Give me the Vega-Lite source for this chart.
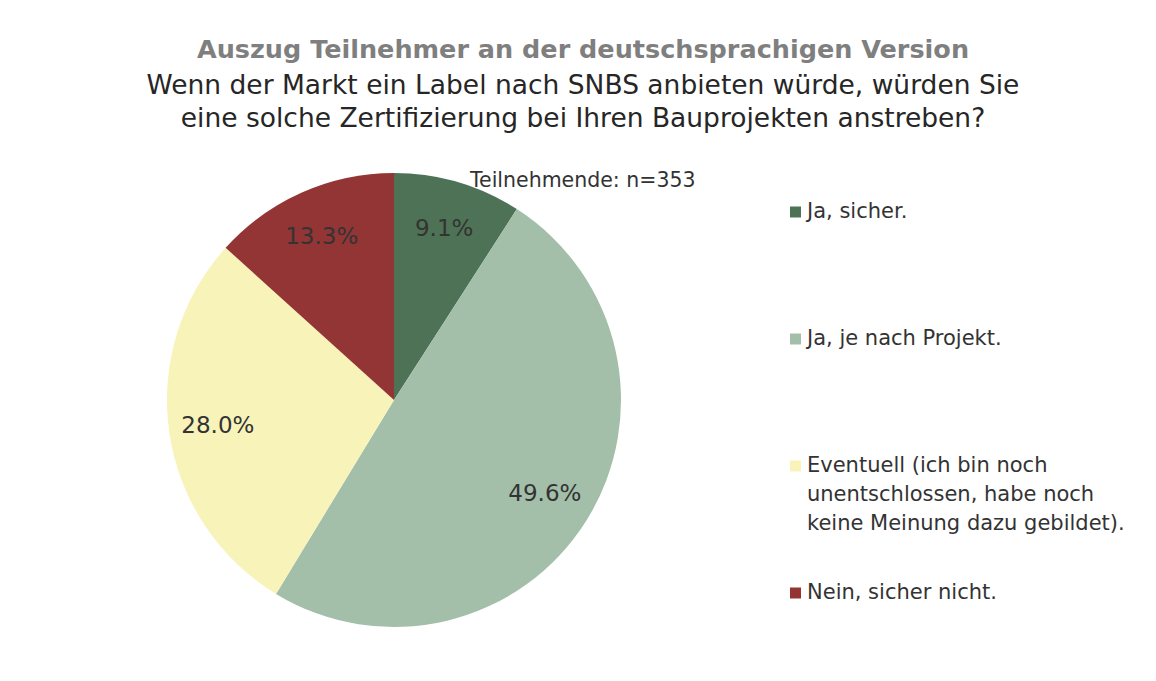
{
  "$schema": "https://vega.github.io/schema/vega-lite/v6.json",
  "autosize": {"type": "none"},
  "padding": {"left": 167, "top": 173, "right": 535, "bottom": 54},
  "width": 454,
  "height": 454,
  "background": "white",
  "config": {"view": {"stroke": null}},
  "title": {
    "text": "Auszug Teilnehmer an der deutschsprachigen Version",
    "subtitle": ["Wenn der Markt ein Label nach SNBS anbieten würde, würden Sie", "eine solche Zertifizierung bei Ihren Bauprojekten anstreben?"],
    "anchor": "middle",
    "frame": "group",
    "dx": 189,
    "offset": 39,
    "font": "DejaVu Sans",
    "fontSize": 25.5,
    "fontWeight": "bold",
    "color": "#7f7f7f",
    "subtitleFont": "DejaVu Sans",
    "subtitleFontSize": 26.5,
    "subtitleColor": "#262626",
    "subtitleLineHeight": 33,
    "subtitlePadding": 9
  },
  "data": {
    "values": [
      {"nr": 1, "antwort": "Ja, sicher.", "anteil": 0.091},
      {"nr": 2, "antwort": "Ja, je nach Projekt.", "anteil": 0.496},
      {"nr": 3, "antwort": "Eventuell (ich bin noch unentschlossen, habe noch keine Meinung dazu gebildet).", "anteil": 0.28},
      {"nr": 4, "antwort": "Nein, sicher nicht.", "anteil": 0.133}
    ]
  },
  "layer": [
    {
      "mark": {"type": "arc", "outerRadius": 227},
      "encoding": {
        "theta": {"field": "anteil", "type": "quantitative", "stack": true},
        "order": {"field": "nr", "type": "quantitative"},
        "color": {
          "field": "antwort",
          "type": "nominal",
          "scale": {
            "domain": ["Ja, sicher.", "Ja, je nach Projekt.", "Eventuell (ich bin noch unentschlossen, habe noch keine Meinung dazu gebildet).", "Nein, sicher nicht."],
            "range": ["#4e7255", "#a3bfa9", "#f8f3b9", "#943535"]
          },
          "legend": {
            "orient": "none",
            "legendX": 303,
            "legendY": -2,
            "padding": 0,
            "title": "Teilnehmende: n=353",
            "titleFont": "DejaVu Sans",
            "titleFontSize": 20.5,
            "titleFontWeight": "normal",
            "titleColor": "#333333",
            "titleLimit": 400,
            "titlePadding": 10,
            "symbolType": "square",
            "symbolSize": 121,
            "symbolStrokeWidth": 0,
            "symbolOpacity": 1,
            "symbolOffset": 0,
            "labelFont": "DejaVu Sans",
            "labelFontSize": 21,
            "labelColor": "#333333",
            "labelLimit": 500,
            "labelOffset": 1,
            "labelBaseline": "middle",
            "rowPadding": 47,
            "labelExpr": "indexof(datum.label, 'Eventuell') == 0 ? ['Eventuell (ich bin noch', 'unentschlossen, habe noch', 'keine Meinung dazu gebildet).'] : [datum.label, '', '']",
            "encode": {
              "labels": {"update": {"lineHeight": {"value": 29}}},
              "title": {"update": {"dx": {"value": -315}}}
            }
          }
        }
      }
    },
    {
      "mark": {"type": "text", "radius": 178, "font": "DejaVu Sans", "fontSize": 23, "color": "#333333"},
      "encoding": {
        "theta": {"field": "anteil", "type": "quantitative", "stack": true},
        "order": {"field": "nr", "type": "quantitative"},
        "text": {"field": "anteil", "type": "quantitative", "format": ".1%"}
      }
    }
  ]
}
